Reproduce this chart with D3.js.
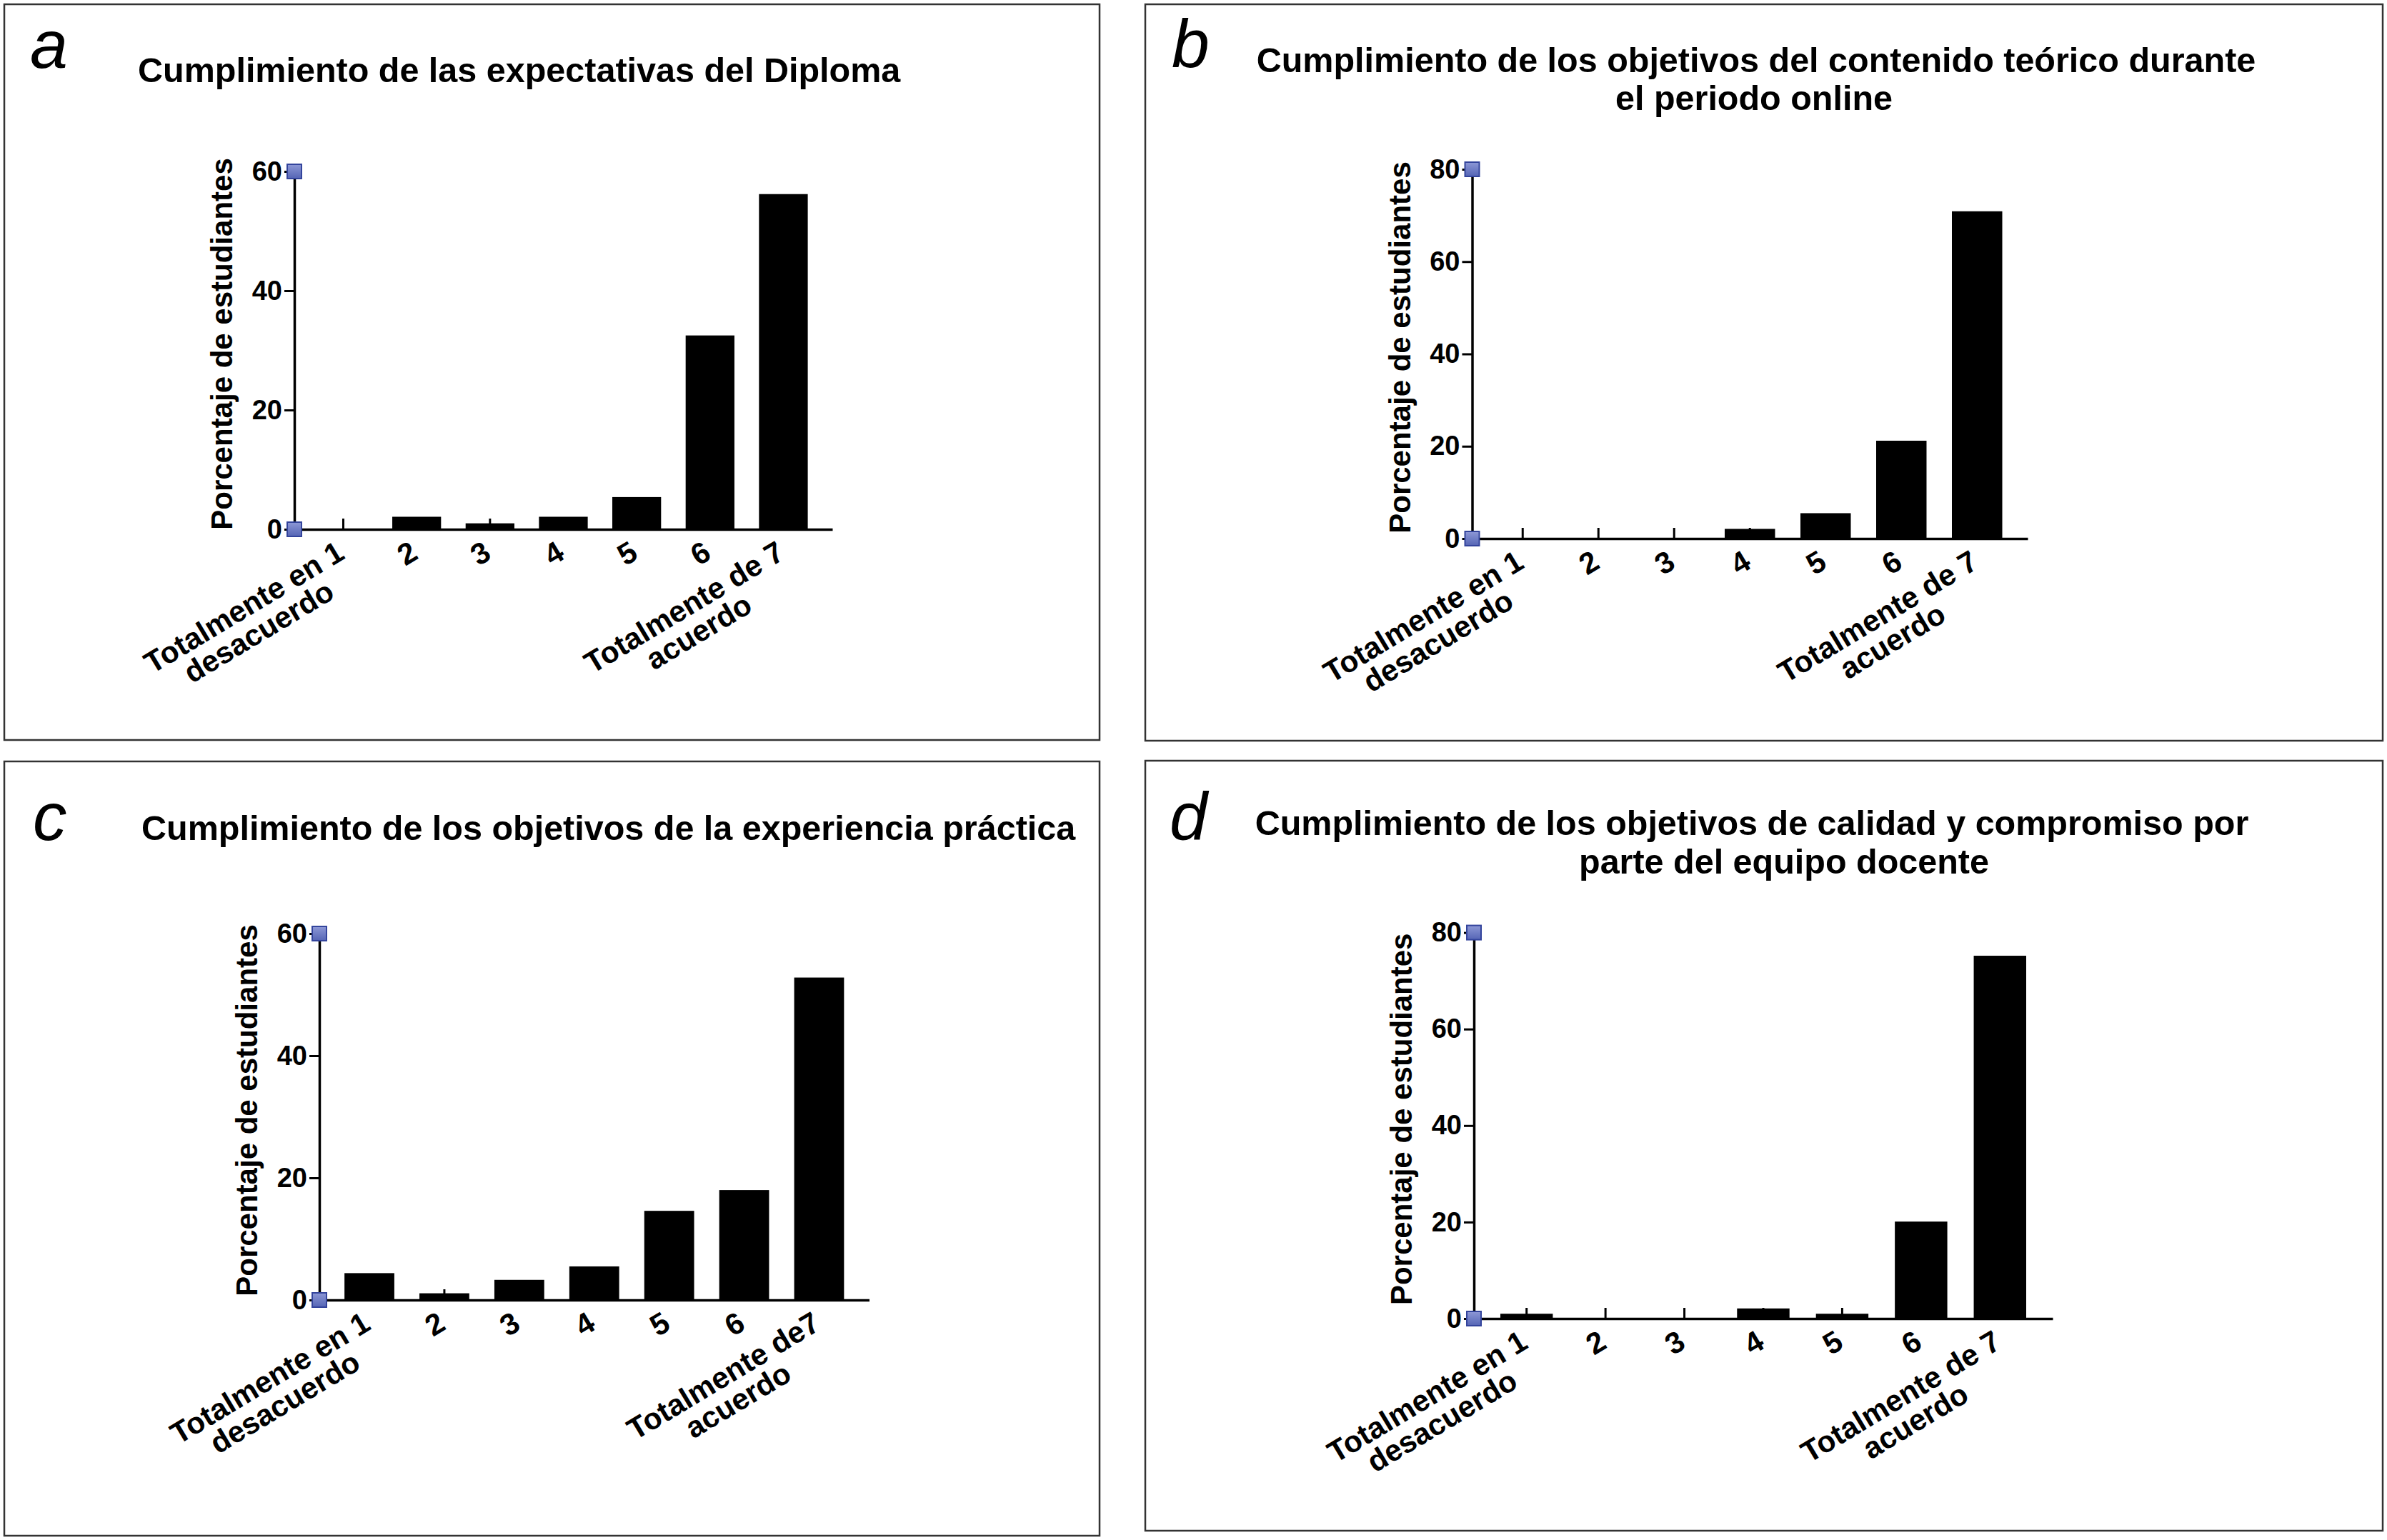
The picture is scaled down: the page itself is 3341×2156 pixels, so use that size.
<!DOCTYPE html>
<html><head><meta charset="utf-8">
<script src="https://cdn.jsdelivr.net/npm/d3@7"></script>
<style>html,body{margin:0;padding:0;background:#fff;} svg{display:block}</style>
</head><body>
<svg id="chart" width="3341" height="2156"></svg>
<script>
// ---------------- DATA ----------------
const categories = ["1","2","3","4","5","6","7"];
const tickLabelsStd = [["Totalmente en 1","desacuerdo"],["2"],["3"],["4"],["5"],["6"],["Totalmente de 7","acuerdo"]];
const tickLabelsC   = [["Totalmente en 1","desacuerdo"],["2"],["3"],["4"],["5"],["6"],["Totalmente de7","acuerdo"]];

const valuesA = [0, 2.1, 1.0, 2.1, 5.4, 32.5, 56.2];
const valuesB = [0, 0, 0, 2.1, 5.5, 21.2, 70.9];
const valuesC = [4.4, 1.1, 3.3, 5.5, 14.6, 18.0, 52.8];
const valuesD = [1.0, 0, 0, 2.1, 1.0, 20.1, 75.2];

const yTicks60 = [0, 20, 40, 60];
const yTicks80 = [0, 20, 40, 60, 80];

const titleA = ["Cumplimiento de las expectativas del Diploma"];
const titleB = ["Cumplimiento de los objetivos del contenido teórico durante", "el periodo online"];
const titleC = ["Cumplimiento de los objetivos de la experiencia práctica"];
const titleD = ["Cumplimiento de los objetivos de calidad y compromiso por", "parte del equipo docente"];

const yAxisTitle = "Porcentaje de estudiantes";
const panelLetters = ["a", "b", "c", "d"];

// ---------------- LAYOUT ----------------
const panels = [
  {letter: panelLetters[0], values: valuesA, ticks: yTicks60, title: titleA, labels: tickLabelsStd,
   box: [6, 6, 1539, 1036], axisX: 412, y0: 741, yTop: 240, xEnd: 1165,
   titlePos: [{x: 193, y: 115, anchor: "start"}], letterPos: [42, 95]},
  {letter: panelLetters[1], values: valuesB, ticks: yTicks80, title: titleB, labels: tickLabelsStd,
   box: [1603, 6, 3335, 1037], axisX: 2060.5, y0: 754, yTop: 237, xEnd: 2838,
   titlePos: [{x: 2458, y: 101, anchor: "middle"}, {x: 2455, y: 154, anchor: "middle"}], letterPos: [1640, 94]},
  {letter: panelLetters[2], values: valuesC, ticks: yTicks60, title: titleC, labels: tickLabelsC,
   box: [6, 1066, 1539, 2150], axisX: 447, y0: 1820, yTop: 1307, xEnd: 1216.5,
   titlePos: [{x: 198, y: 1176, anchor: "start"}], letterPos: [46, 1176]},
  {letter: panelLetters[3], values: valuesD, ticks: yTicks80, title: titleD, labels: tickLabelsStd,
   box: [1603, 1065, 3335, 2143], axisX: 2063, y0: 1846, yTop: 1305.6, xEnd: 2873,
   titlePos: [{x: 2452, y: 1169, anchor: "middle"}, {x: 2497, y: 1223, anchor: "middle"}], letterPos: [1637, 1176]}
];

const FONT = "'Liberation Sans', Arial, Helvetica, sans-serif";
const svg = d3.select("#chart");

const defs = svg.append("defs");
const grad = defs.append("linearGradient").attr("id", "sq").attr("x1", 0).attr("y1", 0).attr("x2", 0).attr("y2", 1);
grad.append("stop").attr("offset", "0%").attr("stop-color", "#8d98d6");
grad.append("stop").attr("offset", "100%").attr("stop-color", "#5565b5");

function drawPanel(P) {
  const g = svg.append("g");
  const [bx0, by0, bx1, by1] = P.box;
  g.append("rect").attr("x", bx0).attr("y", by0).attr("width", bx1 - bx0).attr("height", by1 - by0)
    .attr("fill", "none").attr("stroke", "#333").attr("stroke-width", 2.5);

  const x = d3.scaleBand().domain(categories).range([P.axisX, P.xEnd]).paddingInner(0.335).paddingOuter(0.335);
  const y = d3.scaleLinear().domain([0, d3.max(P.ticks)]).range([P.y0, P.yTop]);

  // x ticks (pointing up), behind the bars
  const xTicks = g.append("g").attr("transform", `translate(0,${P.y0})`)
    .call(d3.axisBottom(x).tickSizeInner(-15).tickSizeOuter(0).tickFormat(""));
  xTicks.select(".domain").remove();
  xTicks.selectAll(".tick line").attr("stroke", "#000").attr("stroke-width", 3);

  // bars
  g.selectAll("rect.bar").data(P.values).join("rect").attr("class", "bar")
    .attr("x", (d, i) => x(categories[i]))
    .attr("y", d => y(d))
    .attr("width", x.bandwidth())
    .attr("height", d => P.y0 - y(d))
    .attr("fill", "#000");

  // x axis line
  const xLine = g.append("g").attr("transform", `translate(0,${P.y0})`)
    .call(d3.axisBottom(x).tickValues([]).tickSizeOuter(0));
  xLine.select(".domain").attr("stroke", "#000").attr("stroke-width", 3.5);

  // y axis
  const ya = g.append("g").attr("transform", `translate(${P.axisX},0)`)
    .call(d3.axisLeft(y).tickValues(P.ticks).tickSizeInner(14).tickSizeOuter(0).tickPadding(3).tickFormat(d3.format("d")));
  ya.select(".domain").attr("stroke", "#000").attr("stroke-width", 3.5);
  ya.selectAll(".tick line").attr("stroke", "#000").attr("stroke-width", 3);
  ya.selectAll(".tick text").attr("font-family", FONT).attr("font-size", 38).attr("font-weight", "bold").attr("fill", "#000");

  // blue end markers
  g.selectAll("rect.mk").data([0, d3.max(P.ticks)]).join("rect").attr("class", "mk")
    .attr("x", P.axisX - 10).attr("y", d => y(d) - 10).attr("width", 20).attr("height", 20)
    .attr("fill", "url(#sq)").attr("stroke", "#33449c").attr("stroke-width", 2);

  // x tick labels, rotated
  categories.forEach((c, i) => {
    const cx = x(c) + x.bandwidth() / 2;
    const lg = g.append("g").attr("transform", `translate(${cx + 4},${P.y0 + 40}) rotate(-31)`)
      .attr("font-family", FONT).attr("font-size", 42).attr("font-weight", "bold");
    const lines = P.labels[i];
    const t1 = lg.append("text").attr("x", 0).attr("y", 0).attr("text-anchor", "end").text(lines[0]);
    if (lines.length > 1) {
      const w1 = t1.node().getComputedTextLength();
      lg.append("text").attr("x", -w1 / 2).attr("y", 40).attr("text-anchor", "middle").text(lines[1]);
    }
  });

  // y axis title
  g.append("text")
    .attr("transform", `translate(${P.axisX - 87},${(P.y0 + P.yTop) / 2 - 9}) rotate(-90)`)
    .attr("text-anchor", "middle").attr("font-family", FONT).attr("font-size", 42).attr("font-weight", "bold")
    .text(yAxisTitle);

  // title
  P.title.forEach((t, i) => {
    const pos = P.titlePos[i];
    g.append("text").attr("x", pos.x).attr("y", pos.y).attr("text-anchor", pos.anchor)
      .attr("font-family", FONT).attr("font-size", 48.5).attr("font-weight", "bold").text(t);
  });

  // panel letter
  g.append("text").attr("x", P.letterPos[0]).attr("y", P.letterPos[1])
    .attr("font-family", FONT).attr("font-size", 95).attr("font-style", "italic").text(P.letter);
}

panels.forEach(drawPanel);
</script>
</body></html>
